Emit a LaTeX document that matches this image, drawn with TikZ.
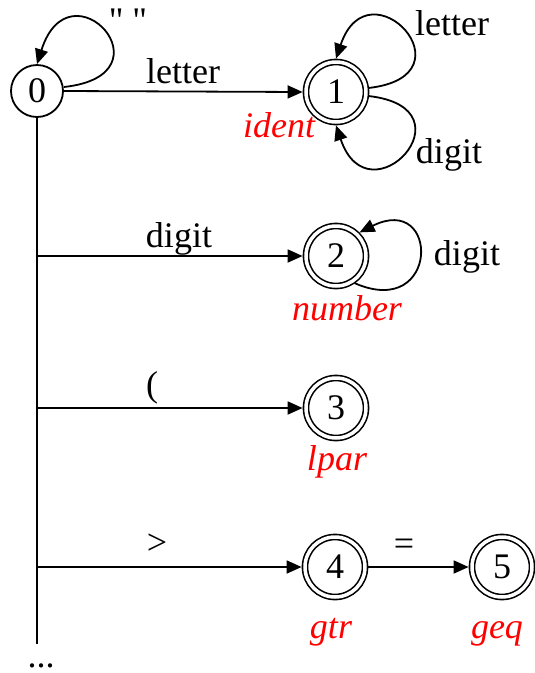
\documentclass[tikz,border=0pt]{standalone}
\usepackage{fontspec}
\setmainfont{Liberation Serif}
\usetikzlibrary{arrows.meta}
\begin{document}
\begin{tikzpicture}[x=1pt,y=-1pt,
  every node/.style={font=\fontsize{36}{40}\selectfont, inner sep=0pt},
  state/.style={circle, draw, line width=1.8pt, minimum size=52pt},
  accept/.style={circle, draw, line width=1.6pt, double, double distance=3.5pt, minimum size=60pt, outer sep=3.4pt},
  tag/.style={text=red, font=\fontsize{36}{40}\selectfont\itshape, anchor=base},
  lbl/.style={anchor=base},
  edge/.style={line width=1.8pt, -{Triangle[length=15pt,width=13pt]}},
  plain/.style={line width=1.8pt},
  ]
\useasboundingbox (0,0) rectangle (535,673);

\node[state] (n0) at (37,91) {0};
\node[accept] (n1) at (336,92) {1};
\node[accept] (n2) at (336,256) {2};
\node[accept] (n3) at (336,408) {3};
\node[accept] (n4) at (335,567) {4};
\node[accept] (n5) at (502,567) {5};

\node[tag] (t1) at (279,137) {ident};
\node[tag] (t2) at (347,320) {number};
\node[tag] (t3) at (337,470) {lpar};
\node[tag] (t4) at (331,638) {gtr};
\node[tag] (t5) at (497,638) {geq};

\coordinate (bottom) at (37,644);
\coordinate (b2) at (37,256);
\coordinate (b3) at (37,408);
\coordinate (b4) at (37,567);
\node[lbl] (dots) at (41,667) {...};

% trunk
\draw[plain] (n0.south) -- (bottom);

% self loops
\draw[edge] (n0.east) ++(0,-4) coordinate (s0)
  (s0) .. controls (175,75) and (70,-40) .. (n0.north);
\node[lbl] (l0) at (128,32) {\textquotedbl\ \textquotedbl};

\draw[edge] (n1.east) ++(-1,-4) coordinate (s1a)
  (s1a) .. controls (476,76) and (369,-39) .. (n1.north);
\node[lbl] (l1a) at (452,35) {letter};

\draw[edge] (n1.east) ++(-1,4) coordinate (s1b)
  (s1b) .. controls (476,108) and (369,223) .. (n1.south);
\node[lbl] (l1b) at (449,163) {digit};

\draw[edge] (n2.-55) .. controls (440,320) and (440,192) .. (n2.45);
\node[lbl] (l2b) at (467,265) {digit};

% transitions
\draw[edge] (n0.east) -- (n1.west);
\node[lbl] (l01) at (183,83) {letter};
\draw[edge] (b2) -- (n2.west);
\node[lbl] (l02) at (179,247) {digit};
\draw[edge] (b3) -- (n3.west);
\node[lbl] (l03) at (152,396) {(};
\draw[edge] (b4) -- (n4.west);
\node[lbl] (l04) at (157,554) {>};
\draw[edge] (n4.east) -- (n5.west);
\node[lbl] (l45) at (404,555) {=};
\end{tikzpicture}
\end{document}
